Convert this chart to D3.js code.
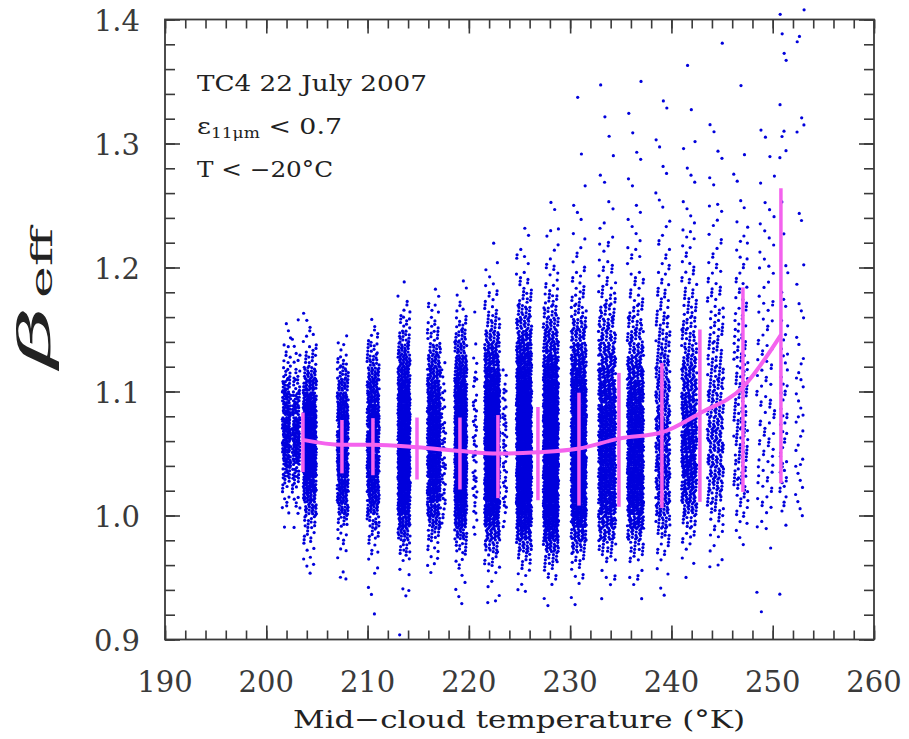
<!DOCTYPE html>
<html><head><meta charset="utf-8">
<script src="https://cdn.jsdelivr.net/npm/d3@7"></script>
<style>body{margin:0;background:#fff}svg{display:block}</style>
</head><body>
<svg id="chart" width="909" height="739"></svg>
<script>
// ---------------- data ----------------
const xDomain = [190, 260];
const yDomain = [0.9, 1.4];
const xTickLabels = [190, 200, 210, 220, 230, 240, 250, 260];
const yTickLabels = [0.9, 1.0, 1.1, 1.2, 1.3, 1.4];

// scatter strips: centre temperature (K), half width (K), first beta bin, counts per 0.01 beta bin
const stripTemp = [202.0, 202.95, 204.3, 207.55, 210.55, 213.6, 216.55, 217.5, 219.2, 220.6, 222.3, 223.55, 225.45, 228.1, 230.85, 233.65, 236.45, 239.15, 241.75, 244.35, 246.85, 249.3, 251.1, 252.65];
const stripHalfWidth = [0.42, 0.38, 0.65, 0.55, 0.6, 0.6, 0.65, 0.2, 0.6, 0.2, 0.75, 0.2, 0.75, 0.75, 0.75, 0.85, 0.8, 0.7, 0.75, 0.8, 0.7, 0.9, 0.4, 0.45];
const stripBinStart = [0.99, 0.99, 0.95, 0.94, 0.92, 0.90, 0.95, 0.99, 0.92, 0.98, 0.92, 0.99, 0.93, 0.92, 0.92, 0.93, 0.93, 0.93, 0.95, 0.95, 0.97, 0.92, 0.93, 0.99];
const stripCounts = [
  [1,3,4,6,14,22,25,25,25,22,20,14,8,5,3,2,1],
  [1,3,4,6,12,18,22,22,22,18,14,8,5,3,2,1,1],
  [2,3,4,6,12,22,32,42,50,55,58,58,55,50,42,32,20,10,6,4,2,1],
  [1,2,1,3,5,10,20,28,35,40,42,42,42,40,36,30,22,14,8,3,1],
  [1,1,1,2,2,4,8,14,24,32,40,44,46,46,46,44,42,36,30,24,16,10,5,2],
  [1,0,0,2,1,2,4,10,20,32,44,52,58,60,62,62,62,60,56,50,44,36,28,20,14,8,4,2,1],
  [2,3,6,12,22,32,40,46,50,52,52,52,50,46,42,36,30,24,16,10,6,4,2,1],
  [2,3,4,4,4,4,4,4,4,3,3,2,2,1],
  [1,1,2,2,4,10,20,32,44,52,58,60,62,62,62,60,56,50,44,36,28,20,14,8,4,2,2],
  [1,2,3,4,4,4,4,4,4,4,4,3,3,2,2,1,0,0,1],
  [1,2,2,4,8,16,28,40,52,62,68,72,74,74,74,72,68,62,54,46,38,30,22,14,8,5,3,2,1,1],
  [2,3,4,4,4,4,5,5,5,4,3,3,2],
  [1,2,4,10,20,34,48,60,70,76,80,82,82,82,80,76,70,62,54,46,38,30,22,16,10,6,4,3,2,1,1],
  [1,1,2,6,14,26,40,52,62,70,74,76,76,76,74,72,68,62,56,48,40,32,26,20,14,10,6,4,3,2,2,1,1,1],
  [1,1,2,4,8,18,30,42,52,60,64,66,66,66,64,62,58,54,48,42,36,30,24,18,12,8,6,4,3,2,2,1,1,1,1,0,0,1,0,0,0,1],
  [1,2,3,6,14,24,34,42,48,52,54,54,54,52,50,48,44,40,36,30,26,22,18,14,10,7,5,4,3,2,2,1,1,1,1,0,1,1,0,1,0,1],
  [1,2,3,6,12,22,34,44,52,56,58,58,58,56,54,50,46,40,34,28,22,18,14,10,7,5,4,3,3,2,2,1,1,1,1,1,1,1,0,1,0,0,1],
  [1,1,2,3,5,10,16,22,26,28,30,30,30,30,28,26,24,22,20,18,14,12,10,8,6,5,4,3,3,2,2,1,1,1,1,1,1,1,0,1,1],
  [1,2,3,6,12,20,28,34,38,40,40,40,38,36,32,28,24,20,16,14,12,10,8,6,5,4,3,3,2,2,1,1,1,1,1,1,0,1,0,0,0,1],
  [1,2,2,4,6,10,14,18,20,22,22,22,20,20,18,16,14,12,10,9,8,7,6,5,4,3,3,2,2,2,1,1,1,1,1,1,1,0,0,0,0,0,0,1],
  [1,2,3,5,7,9,10,11,11,11,10,10,9,9,8,8,7,6,5,5,4,4,3,3,2,2,2,1,1,1,1,0,1,0,0,0,0,1],
  [1,1,0,0,0,1,1,2,3,4,4,5,5,5,5,5,5,5,4,4,4,4,3,3,3,3,2,2,2,2,2,1,2,1,1,1,1,0,1,1],
  [1,0,0,0,0,0,1,2,3,4,4,3,3,3,3,3,3,3,2,2,2,2,2,1,1,1,1,1,0,1,0,0,1,0,0,1,1,2,0,0,1,0,0,1,1,1,0,1],
  [1,1,2,2,2,2,2,2,2,2,2,2,2,2,1,1,1,1,1,1,0,1,0,0,1,1,0,0,0,0,0,1,1,1,0,0,0,0,0,2,0,1]
];

// mean curve with error bars
const meanTemp = [203.62, 207.47, 210.53, 214.88, 219.12, 222.87, 226.82, 230.87, 234.82, 239.06, 242.81, 247.06, 250.81];
const meanBeta = [1.061, 1.057, 1.057, 1.055, 1.052, 1.050, 1.051, 1.054, 1.062, 1.067, 1.0825, 1.1035, 1.1456];
const barLow  = [1.035, 1.034, 1.0325, 1.029, 1.021, 1.014, 1.0123, 1.008, 1.007, 1.006, 1.011, 1.019, 1.026];
const barHigh = [1.083, 1.077, 1.0785, 1.079, 1.079, 1.081, 1.0875, 1.099, 1.115, 1.123, 1.150, 1.184, 1.264];

// ---------------- drawing ----------------
const L = 165, R = 874, T = 19.5, B = 639.5;
const svg = d3.select("#chart");
const x = d3.scaleLinear().domain(xDomain).range([L, R]);
const y = d3.scaleLinear().domain(yDomain).range([B, T]);
const font = "DejaVu Serif";
const ink = "#3a3a3a";

// points (jittered layout inside each strip / bin)
const pts = [];
let n = 0;
const a1 = 0.7548776662, a2 = 0.5698402910;
stripTemp.forEach((t, s) => {
  stripCounts[s].forEach((c, b) => {
    for (let k = 0; k < c; k++) {
      n++;
      const u = (0.5 + a1 * n) % 1, v = (0.5 + a2 * n) % 1;
      pts.push([t + stripHalfWidth[s] * (2 * u - 1), stripBinStart[s] + b * 0.01 + 0.01 * v]);
    }
  });
});
svg.append("g").selectAll("circle").data(pts).join("circle")
  .attr("cx", d => x(d[0])).attr("cy", d => y(d[1])).attr("r", 1.6)
  .attr("fill", "#0000dc");

// axes (ticks inward on all four sides)
const xMinor = d3.range(190, 260.01, 2);
const yMinor = d3.range(0.9, 1.4001, 0.02);
function tickAxis(axisFn, scale, vals, len, tr) {
  const g = svg.append("g").attr("transform", tr)
    .call(axisFn(scale).tickValues(vals).tickSize(-len).tickFormat(""));
  g.select(".domain").remove();
  g.selectAll("line").attr("stroke", ink).attr("stroke-width", 1.6);
  return g;
}
tickAxis(d3.axisBottom, x, xMinor, 9, `translate(0,${B})`);
tickAxis(d3.axisBottom, x, xTickLabels, 14, `translate(0,${B})`);
tickAxis(d3.axisTop, x, xMinor, 9, `translate(0,${T})`);
tickAxis(d3.axisTop, x, xTickLabels, 14, `translate(0,${T})`);
tickAxis(d3.axisLeft, y, yMinor, 10, `translate(${L},0)`);
tickAxis(d3.axisLeft, y, yTickLabels, 15, `translate(${L},0)`);
tickAxis(d3.axisRight, y, yMinor, 10, `translate(${R},0)`);
tickAxis(d3.axisRight, y, yTickLabels, 15, `translate(${R},0)`);

svg.append("rect").attr("x", L).attr("y", T).attr("width", R - L).attr("height", B - T)
  .attr("fill", "none").attr("stroke", ink).attr("stroke-width", 1.8);

// tick labels
svg.append("g").selectAll("text").data(xTickLabels).join("text")
  .attr("x", d => x(d)).attr("y", 692).attr("text-anchor", "middle")
  .attr("font-family", font).attr("font-size", 29).attr("fill", ink)
  .text(d => d);
svg.append("g").selectAll("text").data(yTickLabels).join("text")
  .attr("x", 140).attr("y", d => y(d) + 11).attr("text-anchor", "end")
  .attr("font-family", font).attr("font-size", 29).attr("fill", ink)
  .text(d => d.toFixed(1));

// mean line + error bars
const magenta = "#f462ee";
svg.append("g").selectAll("line").data(meanTemp).join("line")
  .attr("x1", d => x(d)).attr("x2", d => x(d))
  .attr("y1", (d, i) => y(barLow[i])).attr("y2", (d, i) => y(barHigh[i]))
  .attr("stroke", magenta).attr("stroke-width", 3.5);
svg.append("path").datum(meanTemp.map((t, i) => [t, meanBeta[i]]))
  .attr("d", d3.line().x(d => x(d[0])).y(d => y(d[1])).curve(d3.curveMonotoneX))
  .attr("fill", "none").attr("stroke", magenta).attr("stroke-width", 4);

// annotations
const ann = svg.append("g").attr("font-family", font).attr("fill", "#222");
ann.append("text").attr("x", 197).attr("y", 91).attr("font-size", 22)
  .attr("textLength", 230).attr("lengthAdjust", "spacingAndGlyphs").text("TC4 22 July 2007");
const t2 = ann.append("text").attr("x", 197).attr("y", 134).attr("font-size", 22)
  .attr("textLength", 145).attr("lengthAdjust", "spacingAndGlyphs");
t2.append("tspan").text("ε");
t2.append("tspan").attr("font-size", 14).attr("dy", 4).text("11μm");
t2.append("tspan").attr("dy", -4).text(" < 0.7");
ann.append("text").attr("x", 197).attr("y", 177).attr("font-size", 22)
  .attr("textLength", 136).attr("lengthAdjust", "spacingAndGlyphs").text("T < −20°C");

// axis titles
svg.append("text").attr("x", 293).attr("y", 728).attr("font-family", font).attr("font-size", 25)
  .attr("fill", "#222").attr("textLength", 452).attr("lengthAdjust", "spacingAndGlyphs")
  .text("Mid−cloud temperature (°K)");
svg.append("text").attr("transform", "translate(50,368) rotate(-90)")
  .attr("font-family", font).attr("font-size", 44).attr("font-style", "italic").attr("fill", "#222")
  .attr("textLength", 62).attr("lengthAdjust", "spacingAndGlyphs").text("β");
svg.append("text").attr("transform", "translate(52,298) rotate(-90)")
  .attr("font-family", font).attr("font-size", 30).attr("fill", "#222")
  .attr("textLength", 70).attr("lengthAdjust", "spacingAndGlyphs").text("eff");
</script>
</body></html>
